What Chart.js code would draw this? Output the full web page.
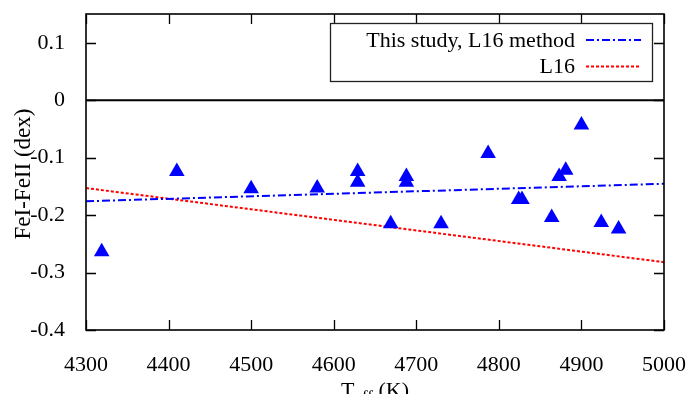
<!DOCTYPE html>
<html>
<head>
<meta charset="utf-8">
<script src="https://cdn.jsdelivr.net/npm/chart.js@4/dist/chart.umd.min.js"></script>
<style>
  html, body { margin: 0; padding: 0; background: #ffffff; }
  #wrap { width: 693px; height: 394px; }
</style>
</head>
<body>
<div id="wrap"><canvas id="c" width="693" height="394"></canvas></div>
<script>
// Effective temperature of each star (K) and its FeI - FeII abundance difference (dex)
const teff   = [4319, 4410, 4500, 4580, 4629, 4629, 4669, 4688, 4688, 4730, 4787, 4824, 4828, 4864, 4873, 4881, 4900, 4924, 4945];
const feDiff = [-0.264, -0.124, -0.154, -0.153, -0.124, -0.143, -0.215, -0.133, -0.143, -0.215, -0.093, -0.173, -0.173, -0.204, -0.133, -0.122, -0.043, -0.213, -0.224];

// Linear trends, given at the ends of the temperature range
const fitTeff       = [4300, 5000];
const fitThisStudy  = [-0.176, -0.1455];
const fitL16        = [-0.153, -0.282];
const zeroLevel     = [0, 0];

// Axis tick values
const xTicks = [4300, 4400, 4500, 4600, 4700, 4800, 4900, 5000];
const yTicks = [-0.4, -0.3, -0.2, -0.1, 0, 0.1];

const seriesNames = ['This study, L16 method', 'L16'];

const SERIF = "'Liberation Serif', 'Times New Roman', serif";

const pts = (xs, ys) => xs.map((x, i) => ({ x: x, y: ys[i] }));

// Inward tick marks on all four sides, frame, legend and axis titles
const framePlugin = {
  id: 'frame',
  afterDatasetsDraw(chart) {
    const ctx = chart.ctx;
    const a = chart.chartArea;
    const xs = chart.scales.x, ys = chart.scales.y;
    const tl = 10;
    ctx.save();
    ctx.strokeStyle = '#000000';
    ctx.lineWidth = 1.3;
    ctx.beginPath();
    xTicks.forEach(v => {
      const px = Math.round(xs.getPixelForValue(v)) + 0.5;
      ctx.moveTo(px, a.bottom); ctx.lineTo(px, a.bottom - tl);
      ctx.moveTo(px, a.top);    ctx.lineTo(px, a.top + tl);
    });
    yTicks.forEach(v => {
      const py = Math.round(ys.getPixelForValue(v)) + 0.5;
      ctx.moveTo(a.left, py);  ctx.lineTo(a.left + tl, py);
      ctx.moveTo(a.right, py); ctx.lineTo(a.right - tl, py);
    });
    ctx.stroke();

    // plot frame
    ctx.lineWidth = 1.6;
    ctx.strokeRect(a.left, a.top, a.right - a.left, a.bottom - a.top);

    // legend box
    const bx = 330.5, by = 23.5, bw = 322, bh = 58;
    ctx.fillStyle = '#ffffff';
    ctx.fillRect(bx, by, bw, bh);
    ctx.lineWidth = 1.3;
    ctx.strokeStyle = '#222222';
    ctx.strokeRect(bx, by, bw, bh);

    ctx.font = '22px ' + SERIF;
    ctx.textAlign = 'right';
    ctx.textBaseline = 'alphabetic';
    const rows = [{ ds: 1, base: 46.7, ly: 40 }, { ds: 2, base: 73.3, ly: 66.5 }];
    rows.forEach(r => {
      const d = chart.data.datasets[r.ds];
      ctx.fillStyle = '#000000';
      ctx.fillText(d.label, 575, r.base);
      ctx.save();
      ctx.strokeStyle = d.borderColor;
      ctx.lineWidth = d.borderWidth;
      ctx.setLineDash(d.borderDash);
      ctx.beginPath();
      ctx.moveTo(586, r.ly);
      ctx.lineTo(641, r.ly);
      ctx.stroke();
      ctx.restore();
    });
    ctx.restore();
  },
  afterDraw(chart) {
    const ctx = chart.ctx;
    const a = chart.chartArea;
    ctx.save();
    ctx.fillStyle = '#000000';

    // y title
    ctx.save();
    ctx.translate(24, 174);
    ctx.rotate(-Math.PI / 2);
    ctx.font = '23px ' + SERIF;
    ctx.textAlign = 'center';
    ctx.textBaseline = 'middle';
    ctx.fillText('FeI-FeII (dex)', 0, 0);
    ctx.restore();

    // x title with subscript
    const big = '22px ' + SERIF, small = '17px ' + SERIF;
    ctx.textBaseline = 'alphabetic';
    ctx.textAlign = 'left';
    ctx.font = big;   const w1 = ctx.measureText('T').width;
    ctx.font = small; const w2 = ctx.measureText('eff').width;
    ctx.font = big;   const w3 = ctx.measureText(' (K)').width;
    const total = w1 + w2 + w3;
    const x0 = (a.left + a.right) / 2 - total / 2;
    const base = 397;
    ctx.font = big;   ctx.fillText('T', x0, base);
    ctx.font = small; ctx.fillText('eff', x0 + w1, base + 5);
    ctx.font = big;   ctx.fillText(' (K)', x0 + w1 + w2, base);
    ctx.restore();
  }
};

new Chart(document.getElementById('c'), {
  type: 'scatter',
  data: {
    datasets: [
      {
        label: 'stars',
        data: pts(teff, feDiff),
        pointStyle: 'triangle',
        pointRadius: 9,
        pointHoverRadius: 9,
        backgroundColor: '#0000ff',
        borderColor: '#0000ff',
        borderWidth: 0,
        showLine: false,
        order: 0
      },
      {
        type: 'line',
        label: seriesNames[0],
        data: pts(fitTeff, fitThisStudy),
        borderColor: '#0000ff',
        borderWidth: 2,
        borderDash: [8, 3, 2, 3],
        pointRadius: 0,
        fill: false,
        order: 1
      },
      {
        type: 'line',
        label: seriesNames[1],
        data: pts(fitTeff, fitL16),
        borderColor: '#ff0000',
        borderWidth: 2,
        borderDash: [3, 2],
        pointRadius: 0,
        fill: false,
        order: 2
      },
      {
        type: 'line',
        label: 'zero',
        data: pts(fitTeff, zeroLevel),
        borderColor: '#000000',
        borderWidth: 2,
        pointRadius: 0,
        fill: false,
        order: 3
      }
    ]
  },
  options: {
    responsive: false,
    animation: false,
    devicePixelRatio: 1,
    layout: { padding: { top: 14, right: 29, left: 0, bottom: 0 } },
    plugins: {
      legend: { display: false },
      tooltip: { enabled: false },
      title: { display: false }
    },
    scales: {
      x: {
        type: 'linear',
        min: 4300,
        max: 5000,
        grid: { display: false },
        border: { display: false },
        afterFit: s => { s.height = 64; s.paddingLeft = 0; s.paddingRight = 0; },
        afterBuildTicks: s => { s.ticks = xTicks.map(v => ({ value: v })); },
        ticks: {
          stepSize: 100,
          padding: 14,
          color: '#000000',
          maxRotation: 0,
          autoSkip: false,
          font: { family: SERIF, size: 22 },
          callback: v => String(v)
        }
      },
      y: {
        type: 'linear',
        min: -0.4,
        max: 0.15,
        grid: { display: false },
        border: { display: false },
        afterFit: s => { s.width = 86; s.paddingTop = 0; s.paddingBottom = 0; },
        afterBuildTicks: s => { s.ticks = yTicks.map(v => ({ value: v })); },
        ticks: {
          stepSize: 0.1,
          padding: 13,
          color: '#000000',
          autoSkip: false,
          font: { family: SERIF, size: 22 },
          callback: v => (Math.abs(v) < 1e-9 ? '0' : (Math.round(v * 10) / 10).toFixed(1))
        }
      }
    }
  },
  plugins: [framePlugin]
});
</script>
</body>
</html>
